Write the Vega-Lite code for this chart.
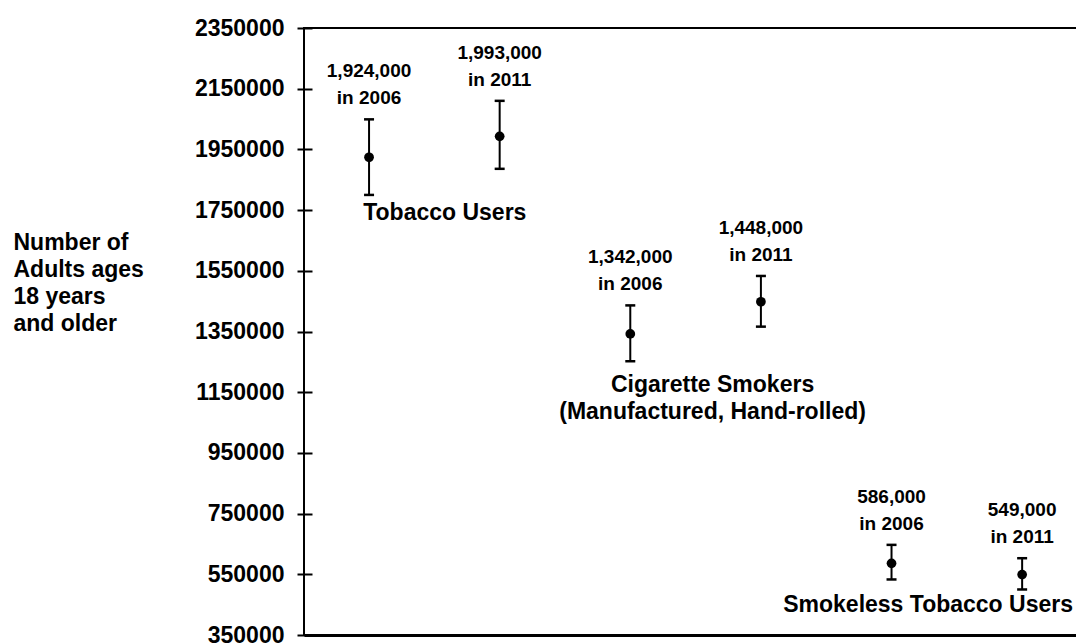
{
  "$schema": "https://vega.github.io/schema/vega-lite/v6.json",
  "width": 773,
  "height": 607,
  "autosize": {"type": "none"},
  "padding": {"left": 304, "top": 28, "right": 0, "bottom": 9},
  "background": "white",
  "config": {
    "font": "Liberation Sans",
    "view": {"stroke": "black", "strokeWidth": 2}
  },
  "datasets": {
    "pts": [
      {"group": "Tobacco Users", "year": "2006", "pos": 1, "value": 1924000, "lower": 1800000, "upper": 2049000, "label": "1,924,000\nin 2006"},
      {"group": "Tobacco Users", "year": "2011", "pos": 2, "value": 1993000, "lower": 1886000, "upper": 2110000, "label": "1,993,000\nin 2011"},
      {"group": "Cigarette Smokers", "year": "2006", "pos": 3, "value": 1342000, "lower": 1252000, "upper": 1436000, "label": "1,342,000\nin 2006"},
      {"group": "Cigarette Smokers", "year": "2011", "pos": 4, "value": 1448000, "lower": 1366000, "upper": 1533000, "label": "1,448,000\nin 2011"},
      {"group": "Smokeless Tobacco Users", "year": "2006", "pos": 5, "value": 586000, "lower": 533000, "upper": 647000, "label": "586,000\nin 2006"},
      {"group": "Smokeless Tobacco Users", "year": "2011", "pos": 6, "value": 549000, "lower": 500000, "upper": 603000, "label": "549,000\nin 2011"}
    ],
    "cats": [
      {"name": "Tobacco Users", "pos": 1.58, "value": 1740000},
      {"name": "Cigarette Smokers\n(Manufactured, Hand-rolled)", "pos": 3.63, "value": 1174000},
      {"name": "Smokeless Tobacco Users", "pos": 5.28, "value": 449000}
    ]
  },
  "layer": [
    {
      "data": {"name": "pts"},
      "mark": {"type": "rule", "color": "black", "strokeWidth": 2},
      "encoding": {
        "x": {
          "field": "pos", "type": "quantitative",
          "scale": {"domain": [0.502, 6.42], "nice": false, "zero": false},
          "axis": {"title": null, "labels": false, "ticks": false, "grid": false, "domainColor": "black", "domainWidth": 3}
        },
        "y": {
          "field": "lower", "type": "quantitative",
          "scale": {"domain": [350000, 2350000], "nice": false, "zero": false},
          "axis": {
            "values": [350000, 550000, 750000, 950000, 1150000, 1350000, 1550000, 1750000, 1950000, 2150000, 2350000],
            "format": "d",
            "grid": false,
            "domain": false,
            "offset": -8,
            "tickSize": 15,
            "tickWidth": 2,
            "tickColor": "black",
            "labelPadding": 13,
            "labelFont": "Liberation Sans",
            "labelFontSize": 23,
            "labelFontWeight": "bold",
            "labelColor": "black",
            "labelOverlap": false,
            "labelBound": false,
            "labelFlush": false,
            "title": ["Number of", "Adults ages", "18 years", "and older"],
            "titleAngle": 0,
            "titleAlign": "left",
            "titleBaseline": "middle",
            "titleX": -299,
            "titleY": 214,
            "titleFont": "Liberation Sans",
            "titleFontSize": 23,
            "titleFontWeight": "bold",
            "titleColor": "black",
            "titleLineHeight": 27
          }
        },
        "y2": {"field": "upper"}
      }
    },
    {
      "data": {"name": "pts"},
      "mark": {"type": "tick", "orient": "horizontal", "color": "black", "opacity": 1, "size": 10, "thickness": 2.5},
      "encoding": {
        "x": {"field": "pos", "type": "quantitative"},
        "y": {"field": "lower", "type": "quantitative"}
      }
    },
    {
      "data": {"name": "pts"},
      "mark": {"type": "tick", "orient": "horizontal", "color": "black", "opacity": 1, "size": 10, "thickness": 2.5},
      "encoding": {
        "x": {"field": "pos", "type": "quantitative"},
        "y": {"field": "upper", "type": "quantitative"}
      }
    },
    {
      "data": {"name": "pts"},
      "mark": {"type": "circle", "color": "black", "opacity": 1, "size": 95},
      "encoding": {
        "x": {"field": "pos", "type": "quantitative"},
        "y": {"field": "value", "type": "quantitative"}
      }
    },
    {
      "data": {"name": "pts"},
      "mark": {"type": "text", "lineBreak": "\n", "lineHeight": 27, "fontSize": 19, "fontWeight": "bold", "font": "Liberation Sans", "color": "black", "align": "center", "baseline": "middle", "dy": -48},
      "encoding": {
        "x": {"field": "pos", "type": "quantitative"},
        "y": {"field": "upper", "type": "quantitative"},
        "text": {"field": "label", "type": "nominal"}
      }
    },
    {
      "data": {"name": "cats"},
      "mark": {"type": "text", "lineBreak": "\n", "lineHeight": 27, "fontSize": 23, "fontWeight": "bold", "font": "Liberation Sans", "color": "black", "align": "center", "baseline": "middle"},
      "encoding": {
        "x": {"field": "pos", "type": "quantitative"},
        "y": {"field": "value", "type": "quantitative"},
        "text": {"field": "name", "type": "nominal"}
      }
    }
  ]
}
